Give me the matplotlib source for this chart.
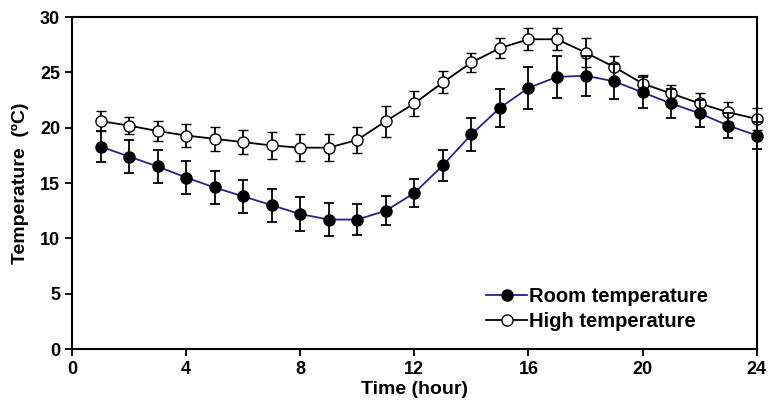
import matplotlib
matplotlib.use("Agg")
import matplotlib.pyplot as plt
from matplotlib.lines import Line2D
import numpy as np

plt.rcParams['font.family'] = ['Liberation Sans', 'DejaVu Sans']
plt.rcParams['font.weight'] = 'bold'

hours = np.arange(1, 25)

room = [18.3, 17.4, 16.5, 15.5, 14.6, 13.8, 13.0, 12.2, 11.7, 11.7, 12.5, 14.1,
        16.6, 19.4, 21.8, 23.6, 24.6, 24.7, 24.2, 23.2, 22.2, 21.3, 20.2, 19.3]
room_err = [1.4, 1.5, 1.5, 1.5, 1.5, 1.5, 1.5, 1.5, 1.5, 1.4, 1.3, 1.3,
            1.4, 1.5, 1.7, 1.9, 1.9, 1.8, 1.6, 1.4, 1.3, 1.2, 1.1, 1.2]

high = [20.6, 20.2, 19.7, 19.3, 19.0, 18.7, 18.4, 18.2, 18.2, 18.9, 20.6, 22.2,
        24.1, 25.9, 27.2, 28.0, 28.0, 26.8, 25.5, 24.0, 23.1, 22.2, 21.4, 20.8]
high_err = [0.9, 0.8, 0.9, 1.0, 1.1, 1.1, 1.2, 1.2, 1.2, 1.2, 1.4, 1.1,
            1.0, 0.9, 0.9, 1.0, 1.0, 1.3, 1.0, 0.8, 0.8, 0.9, 0.9, 1.0]

blue = '#2b1f8a'

fig = plt.figure(figsize=(7.69, 4.08), dpi=100)
ax = fig.add_axes([0.0936, 0.1446, 0.8904, 0.8134])

hi = ax.errorbar(hours, high, yerr=high_err, color='black', lw=1.3, marker='o',
                 ms=8, mfc='white', mec='black', mew=1.0, ecolor='black',
                 elinewidth=1.3, capsize=3.5, capthick=1.3, zorder=2)
rm = ax.errorbar(hours, room, yerr=room_err, color=blue, lw=1.3, marker='o',
                 ms=8, mfc='black', mec='black', ecolor='black',
                 elinewidth=1.3, capsize=3.5, capthick=1.3, zorder=3)
for cont in (hi, rm):
    for art in cont.get_children():
        art.set_clip_on(False)

ax.set_xlim(0, 24)
ax.set_ylim(0, 30)
ax.set_xticks(range(0, 25, 4))
ax.set_yticks(range(0, 31, 5))
ax.tick_params(direction='out', length=5, width=1.3, labelsize=13)
for s in ax.spines.values():
    s.set_linewidth(1.5)

ax.set_xlabel('Time (hour)', fontsize=14, fontweight='bold', labelpad=2)
ax.set_ylabel('Temperature  (\u00baC)', fontsize=14, fontweight='bold', labelpad=8)

handles = [Line2D([], [], color=blue, lw=1.3, marker='o', ms=8, mfc='black', mec='black'),
           Line2D([], [], color='black', lw=1.3, marker='o', ms=8, mfc='white', mec='black')]
ax.legend(handles, ['Room temperature', 'High temperature'], loc='lower right',
          bbox_to_anchor=(0.955, 0.0), frameon=False, handlelength=2.0,
          handletextpad=0.1, labelspacing=0.3, prop={'weight': 'bold', 'size': 14.5})

fig.savefig('out.png', dpi=100)
